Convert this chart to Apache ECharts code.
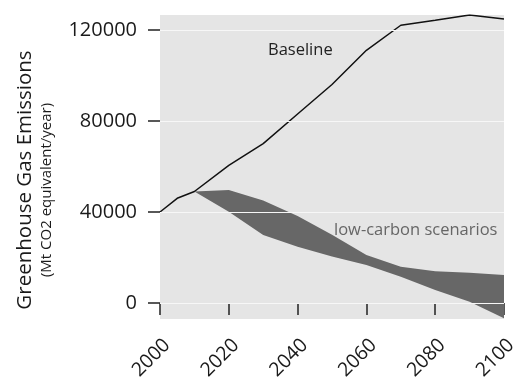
<!DOCTYPE html>
<html>
<head>
<meta charset="utf-8">
<script src="https://cdn.jsdelivr.net/npm/echarts@6/dist/echarts.min.js"></script>
<style>html,body{margin:0;padding:0;background:#fff}#c{width:515px;height:384px}</style>
</head>
<body>
<div id="c"></div>
<script>
const years = [2000, 2005, 2010, 2020, 2030, 2040, 2050, 2060, 2070, 2080, 2090, 2100];
const baseline = [40000, 46000, 49000, 60500, 70000, 83000, 96000, 111000, 122000, 124200, 126500, 124700];
const bandYears = [2010, 2020, 2030, 2040, 2050, 2060, 2070, 2080, 2090, 2100];
const bandUpper = [49000, 49700, 45000, 38200, 30000, 21100, 16000, 14000, 13300, 12300];
const bandLower = [49000, 40100, 29900, 24700, 20400, 16700, 11600, 5700, 600, -6700];
const yTicks = [0, 40000, 80000, 120000];
const xTicks = [2000, 2020, 2040, 2060, 2080, 2100];

const FONT = 'Open Sans';
const chart = echarts.init(document.getElementById('c'));
chart.setOption({
  animation: false,
  textStyle: { fontFamily: FONT },
  grid: { left: 160, right: 11, top: 15, bottom: 65, show: true, backgroundColor: '#e5e5e5', borderWidth: 0,
    containLabel: false, outerBoundsMode: 'none' },
  xAxis: {
    type: 'value', min: 2000, max: 2100, interval: 20,
    axisLine: { show: false },
    axisTick: { show: true, length: 12, lineStyle: { color: '#222', width: 1.5 } },
    axisLabel: { rotate: 45, fontSize: 19.5, color: '#1a1a1a', margin: 16, fontFamily: FONT,
      verticalAlign: 'top', hideOverlap: false, formatter: v => String(v) },
    splitLine: { show: false }
  },
  yAxis: {
    type: 'value', min: -7000, max: 126500,
    axisLine: { show: false },
    axisTick: { show: true, length: 12, customValues: yTicks, lineStyle: { color: '#222', width: 1.5 } },
    axisLabel: { fontSize: 20, color: '#1a1a1a', margin: 23, customValues: yTicks, fontFamily: FONT,
      formatter: v => String(v) },
    splitLine: { show: false }
  },
  graphic: [
    { type: 'text', x: 25, y: 180, rotation: Math.PI / 2,
      style: { text: 'Greenhouse Gas Emissions', fontSize: 20.5, fontFamily: FONT, fill: '#1a1a1a', align: 'center', verticalAlign: 'middle' } },
    { type: 'text', x: 47, y: 190, rotation: Math.PI / 2,
      style: { text: '(Mt CO2 equivalent/year)', fontSize: 15, fontFamily: FONT, fill: '#1a1a1a', align: 'center', verticalAlign: 'middle' } },
    { type: 'text', x: 268, y: 50,
      style: { text: 'Baseline', fontSize: 16.5, fontFamily: FONT, fill: '#222', align: 'left', verticalAlign: 'middle' } },
    { type: 'text', x: 334, y: 230,
      style: { text: 'low-carbon scenarios', fontSize: 16.5, fontFamily: FONT, fill: '#666', align: 'left', verticalAlign: 'middle' } }
  ],
  series: [
    {
      type: 'line', data: [], silent: true, z: 1,
      markLine: {
        silent: true, symbol: 'none', label: { show: false },
        lineStyle: { color: '#f7f7f7', width: 1.2, type: 'solid' },
        data: yTicks.map(v => ({ yAxis: v }))
      }
    },
    {
      type: 'custom', z: 2,
      data: [0],
      renderItem: function (params, api) {
        const pts = [];
        for (let i = 0; i < bandYears.length; i++) pts.push(api.coord([bandYears[i], bandUpper[i]]));
        for (let i = bandYears.length - 1; i >= 0; i--) pts.push(api.coord([bandYears[i], bandLower[i]]));
        return { type: 'polygon', shape: { points: pts }, style: { fill: '#676767' } };
      }
    },
    {
      type: 'line', z: 3, data: years.map((y, i) => [y, baseline[i]]),
      symbol: 'none', lineStyle: { color: '#111', width: 1.5 }
    }
  ]
});
</script>
</body>
</html>
